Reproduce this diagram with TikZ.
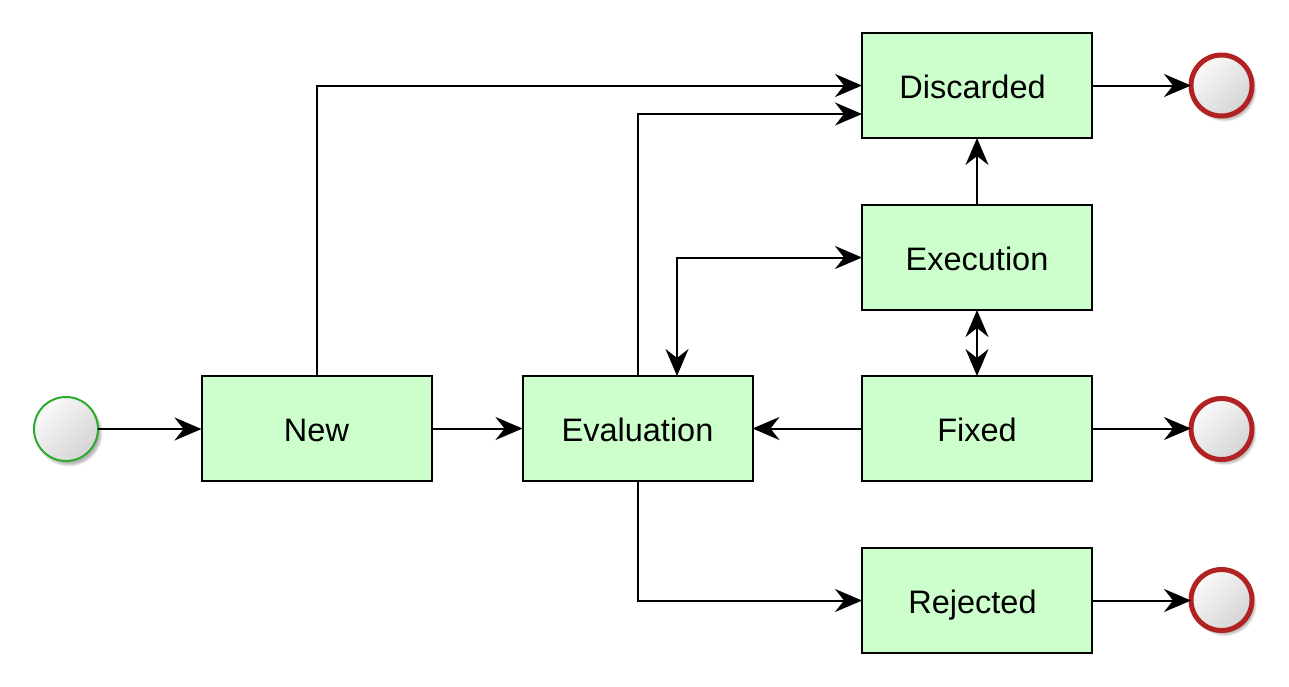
\documentclass[tikz,border=0pt]{standalone}
\usepackage{fontspec}
\setmainfont{Liberation Sans}
\usetikzlibrary{arrows.meta,shadows.blur}
\definecolor{boxfill}{HTML}{CCFFCC}
\definecolor{startc}{HTML}{2DAA2D}
\definecolor{endc}{HTML}{B22222}
\definecolor{shadeA}{HTML}{FAFAFA}
\definecolor{shadeB}{HTML}{D4D4D4}
\tikzset{
  state/.style={draw=black, line width=2pt, fill=boxfill, minimum width=230pt, minimum height=105pt, inner sep=0pt, outer sep=0pt, text height=25.5pt, text depth=0pt, font=\fontsize{32.5}{38}\selectfont},
  evt/.style={circle, inner sep=0pt, outer sep=0pt, top color=shadeA, bottom color=shadeB, shading angle=45,
     blur shadow={shadow xshift=3pt, shadow yshift=-4pt, shadow blur steps=6, shadow opacity=30}},
  startev/.style={evt, draw=startc, line width=2pt, minimum size=64pt},
  endev/.style={evt, draw=endc, line width=5pt, minimum size=61pt},
  conn/.style={line width=2pt, -{Stealth[length=27pt, width=23pt, inset=9pt]}},
  bconn/.style={line width=2pt, {Stealth[length=27pt, width=23pt, inset=9pt]}-{Stealth[length=27pt, width=23pt, inset=9pt]}}
}
\begin{document}
\begin{tikzpicture}[x=1pt,y=-1pt]
\useasboundingbox (0,0) rectangle (1289,686);
\node[startev] (start) at (66,429) {};
\node[state] (new) at (316.5,428.5) {New};
\node[state] (eval) at (637.5,428.5) {Evaluation};
\node[state] (disc) at (977,85.5) {\hspace*{-9pt}Discarded};
\node[state] (exec) at (977,257.5) {Execution};
\node[state] (fixed) at (977,428.5) {Fixed};
\node[state] (rej) at (977,600.5) {\hspace*{-9pt}Rejected};
\node[endev] (end1) at (1221.5,85.5) {};
\node[endev] (end2) at (1221.5,429) {};
\node[endev] (end3) at (1221.5,600) {};

\draw[conn] (start) -- (start -| new.west);
\draw[conn] (new) -- (eval);
\draw[conn] (fixed) -- (eval);
\draw[conn] (new.north) |- (disc.west);
\draw[conn] (eval.north) |- ([yshift=-28.5pt]disc.west);
\draw[bconn] ([xshift=39.5pt]eval.north) |- (exec.west);
\draw[conn] (exec) -- (disc);
\draw[bconn] (exec) -- (fixed);
\draw[conn] (eval.south) |- (rej.west);
\draw[conn] (disc) -- (end1);
\draw[conn] (fixed.east) -- (fixed.east -| end2.west);
\draw[conn] (rej.east) -- (rej.east -| end3.west);
\end{tikzpicture}
\end{document}
